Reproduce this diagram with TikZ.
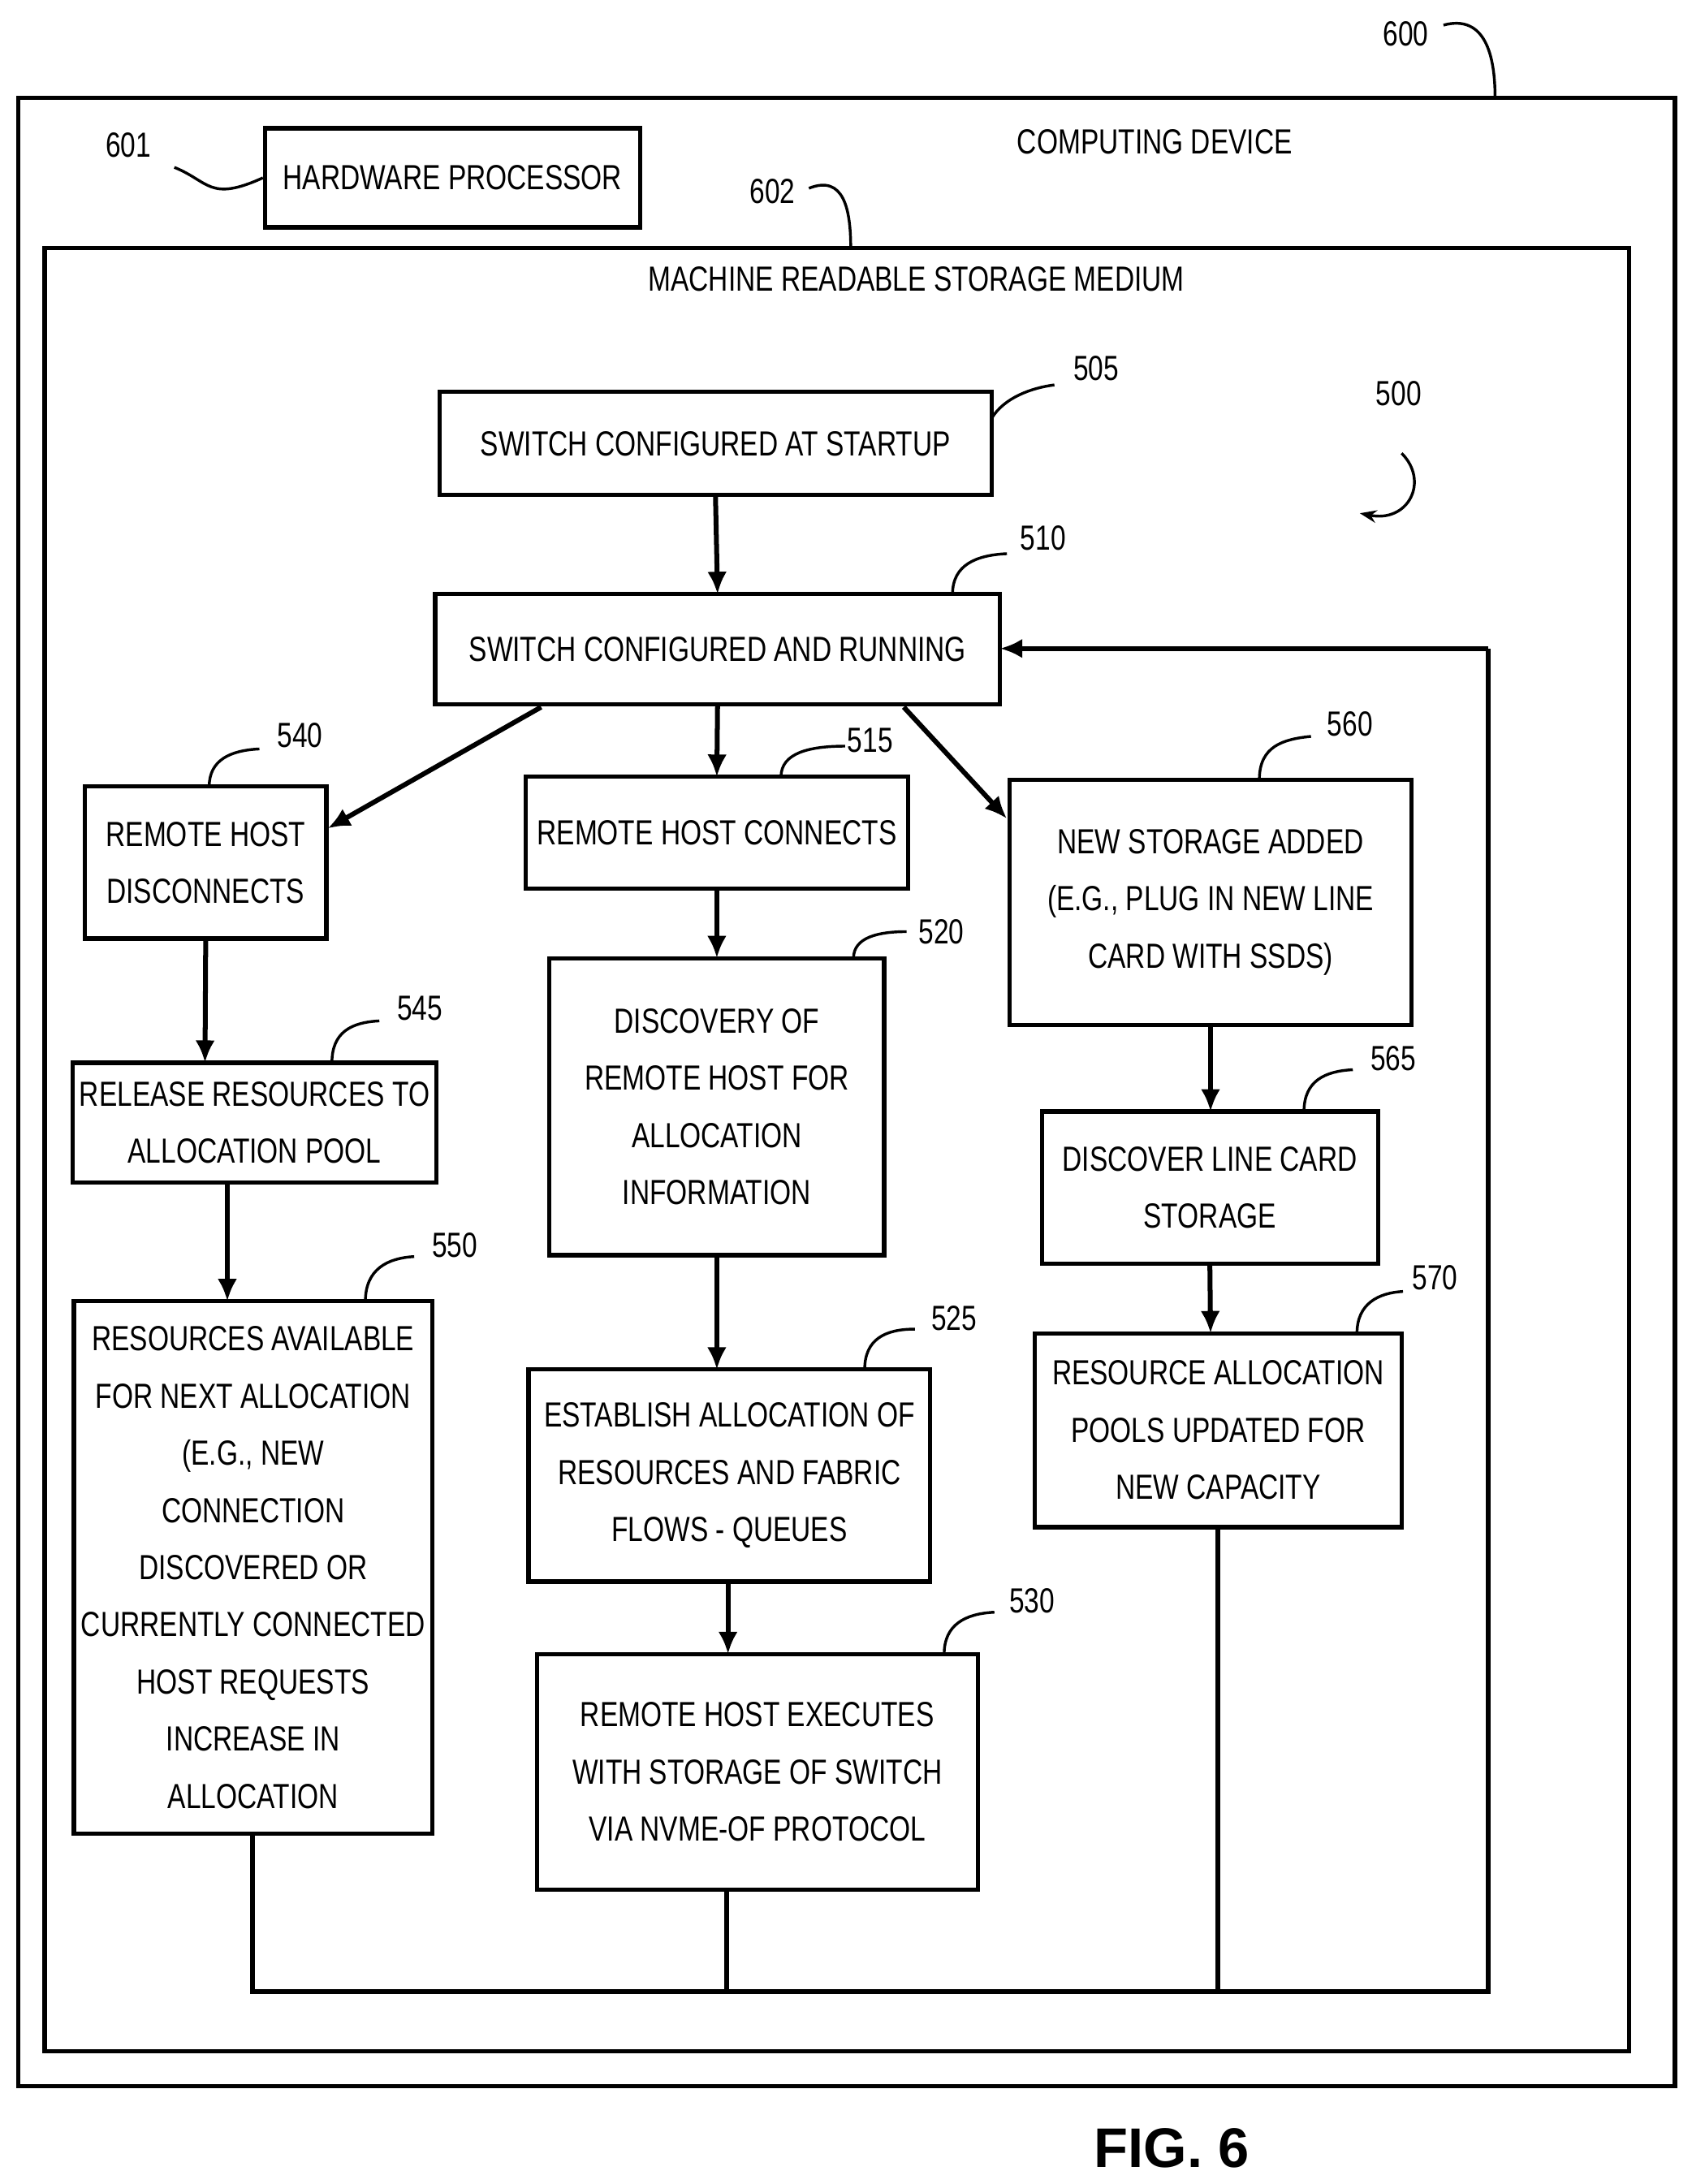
\documentclass[tikz,border=0pt]{standalone}
\usepackage{fontspec}
\setmainfont{Liberation Sans}[FakeStretch=0.78]
\begin{document}
\begin{tikzpicture}[x=1pt,y=-1pt,
  box/.style={draw,line width=3pt,align=center,inner sep=0pt,font=\fontsize{25}{41}\selectfont},
  lbl/.style={font=\fontsize{25}{30}\selectfont},
  lead/.style={line width=2pt},
  arr/.style={line width=3.5pt,-{Latex[length=16pt,width=14pt]}},
  ln/.style={line width=3.5pt}]
\usetikzlibrary{arrows.meta}
\useasboundingbox (0,0) rectangle (1213,1566);
\def\bx#1#2#3#4#5#6{\draw[line width=3pt] (#2,#3) rectangle (#4,#5); \node[box,draw=none] (#1) at ({(#2+#4)/2},{(#3+#5)/2}) {#6};
 \coordinate (#1n) at ({(#2+#4)/2},#3); \coordinate (#1s) at ({(#2+#4)/2},#5);}
\draw[line width=3pt] (13,70) rectangle (1201,1496);
\node[lbl] (l600) at (1008,24) {600};
\draw[lead] (1035,18) .. controls (1065,10) and (1072,40) .. (1072,70);
\node[box,minimum width=269pt,minimum height=71pt] (hp) at (324.5,127.5) {HARDWARE PROCESSOR};
\node[lbl] (l601) at (92,104) {601};
\draw[lead] (125,120) .. controls (150,130) and (150,145) .. (hp.west);
\node[lbl] (cd) at (828,102) {COMPUTING DEVICE};
\draw[line width=3pt] (32,178) rectangle (1168,1471);
\node[lbl] (l602) at (554,137) {602};
\draw[lead] (580,135) .. controls (605,125) and (610,150) .. (610,178);
\node[lbl] (msm) at (657,200) {MACHINE READABLE STORAGE MEDIUM};
\bx{b505}{315}{281}{711}{355}{SWITCH CONFIGURED AT STARTUP}
\bx{b510}{312}{426}{717}{505}{SWITCH CONFIGURED AND RUNNING}
\bx{b540}{61}{564}{234}{673}{REMOTE HOST\\DISCONNECTS}
\bx{b515}{377}{557}{651}{637}{REMOTE HOST CONNECTS}
\bx{b560}{724}{559}{1012}{735}{NEW STORAGE ADDED\\(E.G., PLUG IN NEW LINE\\CARD WITH SSDS)}
\bx{b545}{52}{762}{313}{848}{RELEASE RESOURCES TO\\ALLOCATION POOL}
\bx{b520}{394}{687}{634}{900}{DISCOVERY OF\\REMOTE HOST FOR\\ALLOCATION\\INFORMATION}
\bx{b565}{747}{797}{988}{906}{DISCOVER LINE CARD\\STORAGE}
\bx{b550}{53}{933}{310}{1315}{RESOURCES AVAILABLE\\FOR NEXT ALLOCATION\\(E.G., NEW\\CONNECTION\\DISCOVERED OR\\CURRENTLY CONNECTED\\HOST REQUESTS\\INCREASE IN\\ALLOCATION}
\bx{b525}{379}{982}{667}{1134}{ESTABLISH ALLOCATION OF\\RESOURCES AND FABRIC\\FLOWS - QUEUES}
\bx{b570}{742}{956}{1005}{1095}{RESOURCE ALLOCATION\\POOLS UPDATED FOR\\NEW CAPACITY}
\bx{b530}{385}{1186}{701}{1355}{REMOTE HOST EXECUTES\\WITH STORAGE OF SWITCH\\VIA NVME-OF PROTOCOL}
% labels
\node[lbl] (l505) at (786,264) {505}; \draw[lead] (711,300) .. controls (720,285) and (740,278) .. (756,276);
\node[lbl] (l500) at (1003,282) {500};
\draw[lead,-{Stealth[length=12pt]}] (1005,325) .. controls (1025,345) and (1010,375) .. (975,368);
\node[lbl] (l510) at (748,386) {510}; \draw[lead] (683,426) .. controls (683,405) and (700,398) .. (722,397);
\node[lbl] (l540) at (215,527) {540}; \draw[lead] (150,564) .. controls (150,545) and (165,538) .. (186,537);
\node[lbl] (l515) at (624,531) {515}; \draw[lead] (560,557) .. controls (560,540) and (580,535) .. (606,535);
\node[lbl] (l560) at (968,519) {560}; \draw[lead] (903,559) .. controls (903,535) and (920,530) .. (940,528);
\node[lbl] (l545) at (301,723) {545}; \draw[lead] (238,762) .. controls (238,740) and (252,733) .. (272,732);
\node[lbl] (l520) at (675,668) {520}; \draw[lead] (612,687) .. controls (612,672) and (630,668) .. (650,668);
\node[lbl] (l565) at (999,759) {565}; \draw[lead] (935,797) .. controls (935,775) and (950,768) .. (970,767);
\node[lbl] (l550) at (326,893) {550}; \draw[lead] (262,933) .. controls (262,910) and (278,902) .. (297,901);
\node[lbl] (l525) at (684,945) {525}; \draw[lead] (620,982) .. controls (620,960) and (635,953) .. (656,953);
\node[lbl] (l570) at (1029,916) {570}; \draw[lead] (973,956) .. controls (973,935) and (988,927) .. (1006,926);
\node[lbl] (l530) at (740,1148) {530}; \draw[lead] (677,1186) .. controls (677,1165) and (692,1157) .. (713,1156);
% arrows
\draw[arr] (b505s) -- (b510n);
\draw[arr] (b510s) -- (b515n);
\coordinate (a1) at (388,507); \coordinate (a2) at (235,594);
\draw[arr] (a1) -- (a2);
\coordinate (a3) at (648,507); \coordinate (a4) at (722,587);
\draw[arr] (a3) -- (a4);
\draw[arr] (b540s) -- (147,762);
\draw[arr] (163,848) -- (163,933);
\draw[arr] (b515s) -- (514,687);
\draw[arr] (514,900) -- (514,982);
\draw[arr] (522,1134) -- (522,1186);
\draw[arr] (868,735) -- (868,797);
\draw[arr] (b565s) -- (868,956);
% feedback
\coordinate (f1) at (181,1428); \coordinate (f2) at (1067,1428); \coordinate (f3) at (1067,465);
\draw[ln] (181,1315) -- (f1) -- (f2) -- (f3);
\draw[arr] (f3) -- (717,465);
\draw[ln] (521,1355) -- (521,1428);
\draw[ln] (873,1095) -- (873,1428);
\node[font=\fontsize{40}{40}\bfseries\fontspec{Liberation Sans}] (fig) at (840,1540) {FIG. 6};
\end{tikzpicture}
\end{document}
